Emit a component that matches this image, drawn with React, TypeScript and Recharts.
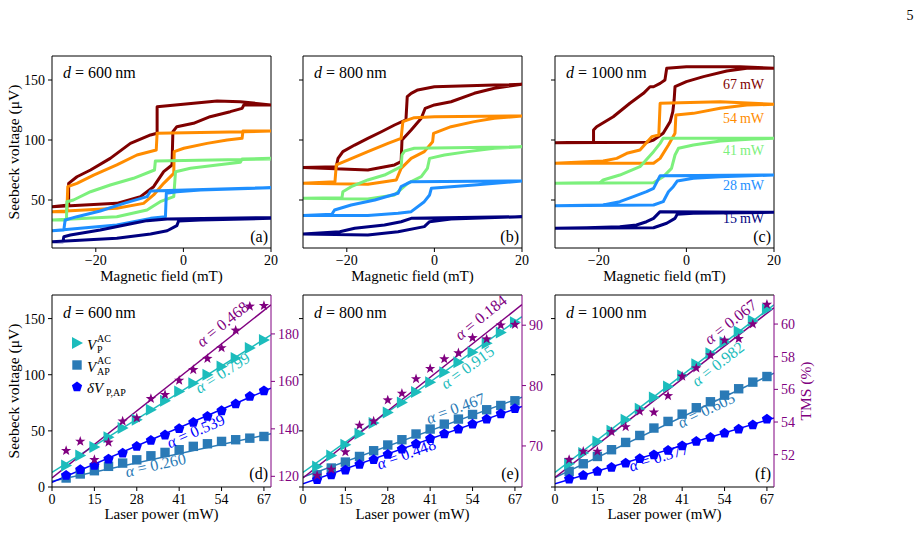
import React from "react";
import { LineChart, Line, XAxis, YAxis, ReferenceLine, ReferenceDot } from "recharts";

type Pt = [number, number];

// hysteresis loops: [field (mT), Seebeck voltage (µV)], sweep + -> - then back
const LOOP_600_67: Pt[] = [[20,129.2],[13,131.9],[7.7,132.5],[-6,127.8],[-6,105.6],[-7.5,104.2],[-12.1,97.2],[-16.7,84.7],[-21.2,75],[-24.3,69.4],[-26.2,63.9],[-26.2,45.8],[-30,44.4],[-15.2,47.2],[-9.8,52.8],[-6.8,61.1],[-4.5,73.6],[-2.6,79.2],[-2.4,106.9],[-1.5,111.1],[2.3,113.9],[6.1,119.4],[10.7,123.6],[13.4,126.4],[13.8,129.2],[20,129.2]];
const LOOP_600_54: Pt[] = [[20,107.5],[13.8,106.9],[-6,105.6],[-6.2,91.7],[-10.6,87.5],[-15.2,79.2],[-20.5,70.8],[-24.3,63.9],[-26.4,61.1],[-26.6,40.3],[-30,40.3],[-15.2,43.1],[-9.1,47.2],[-6.8,54.2],[-4.5,63.9],[-2.2,72.2],[-2.1,90.3],[0.1,93.1],[5.4,97.2],[10,100],[13.4,101.4],[13.6,107.5],[20,107.5]];
const LOOP_600_41: Pt[] = [[20,84.2],[-6.4,82.5],[-6.6,75],[-11.4,68.1],[-16.7,62.5],[-21.2,56.9],[-25.1,50],[-26.6,48.6],[-26.7,33.3],[-30,33.3],[-15.2,36.1],[-8.3,41.7],[-5.3,48.6],[-2.2,52.8],[-1.8,73.6],[1.6,76.4],[7.7,79.2],[13,81.4],[13.4,84.2],[20,84.7]];
const LOOP_600_28: Pt[] = [[20,60.3],[-7.5,57.5],[-8.3,52.8],[-13.6,47.2],[-19,40.8],[-24.3,36.1],[-27,33.3],[-27.3,25],[-30,24.4],[-15.2,29.2],[-7.5,34.7],[-4.1,36.1],[-3.9,55.6],[-1.5,56.9],[3.9,58.3],[20,60.3]];
const LOOP_600_15: Pt[] = [[20,35.3],[-3.7,34.2],[-8.3,32.8],[-11.4,30.6],[-19,25],[-25.8,20.8],[-27.3,19.4],[-27.5,15.3],[-30,15.3],[-15.2,18.1],[-7.5,21.7],[-3.7,24.4],[-1.5,28.6],[-1.1,32.5],[3.9,33.3],[20,34.7]];

const LOOP_800_67: Pt[] = [[20,146.4],[13.7,145.8],[0,144.4],[-3.8,141.7],[-5.3,138.9],[-6.2,136.1],[-6.5,116.7],[-9.1,112.5],[-12.1,106.9],[-15.2,101.4],[-18.2,95.8],[-20.9,90.3],[-22,84.7],[-22.4,77.8],[-30,77],[-15.2,75],[-9.1,79.2],[-7.6,81.9],[-7.4,100],[-5.3,108.3],[-3,118.1],[-2.1,126.4],[0,129.2],[3.8,131.9],[9.1,138.9],[13.7,143.1],[20,146.4]];
const LOOP_800_54: Pt[] = [[20,120],[0,119.4],[-4.6,118.6],[-7.2,115.3],[-7.6,101.4],[-10.6,97.2],[-15.2,90.3],[-19.8,83.3],[-22.4,79.2],[-22.7,65.3],[-30,63.9],[-15.2,63.1],[-8.7,66.7],[-7.6,76.4],[-5.3,84.7],[-2.3,90.3],[-0.4,98.6],[-0.2,105.6],[3.8,111.1],[9.1,115.3],[13.7,118.1],[20,120]];
const LOOP_800_41: Pt[] = [[20,94.4],[-4.6,93.1],[-6.8,90.8],[-7.4,87.5],[-7.6,77.8],[-11.4,70.8],[-15.2,66.7],[-19,61.1],[-20.9,56.9],[-21.1,51.9],[-30,51.4],[-15.2,50.8],[-9.1,54.2],[-6.1,63.9],[-3,69.4],[-1.6,76.4],[-1.1,84.7],[2.3,87.5],[7.6,90.3],[13.7,93.1],[20,94.4]];
const LOOP_800_28: Pt[] = [[20,65.8],[-5.3,65.3],[-7.6,61.1],[-8.3,55.6],[-13.6,50],[-19,45.8],[-22.8,41.7],[-23.4,38.1],[-30,37],[-15.2,37],[-8.3,38.9],[-5.3,40.3],[-2.3,48.6],[-1.1,54.2],[-0.7,59.7],[3.8,61.1],[9.1,62.5],[20,65.8]];
const LOOP_800_15: Pt[] = [[20,36.1],[-5.3,34.7],[-7.6,31.9],[-11.4,29.2],[-18.2,26.4],[-21.6,23.6],[-30,21.7],[-15.2,20.8],[-8.3,23.6],[-2.3,27.8],[-1.1,31.9],[3.8,34.2],[20,36.1]];

const LOOP_1000_67: Pt[] = [[20,159.7],[12.2,161.1],[0,161.1],[-4.5,159.7],[-4.9,150],[-6,147.2],[-7.5,144.4],[-8.3,144.4],[-9.8,138.9],[-12.9,130.6],[-16.7,119.4],[-20.5,111.1],[-21.2,108.3],[-21.2,98.1],[-30,97.8],[-9.1,98.1],[-7.5,100],[-5.3,105.6],[-3.7,115.3],[-3.1,123.6],[-2.8,133.3],[-2.6,144.4],[0,148.6],[3.9,152.8],[9.2,157.5],[13.8,159.7],[20,159.7]];
const LOOP_1000_54: Pt[] = [[20,129.7],[7.7,131.9],[-6,130.6],[-6.3,104.2],[-7.9,102.8],[-10.6,91.7],[-13.6,88.9],[-15.9,84.7],[-19,82.5],[-30,80.6],[-7.5,80.6],[-6,84.7],[-4.1,95.8],[-2.6,105.6],[-2.4,120.8],[1.6,122.2],[7.7,126.4],[13.8,129.2],[20,129.7]];
const LOOP_1000_41: Pt[] = [[20,101.4],[-5.3,101.4],[-6,97.2],[-7.5,90.3],[-10.6,77.8],[-15.2,70.8],[-19,66.7],[-19.7,64.4],[-30,63.9],[-7.5,64.4],[-5.3,69.4],[-3.4,76.4],[-2.6,87.5],[-1.8,93.1],[1.6,95.8],[7.7,99.2],[15.3,100.8],[20,101.4]];
const LOOP_1000_28: Pt[] = [[20,70.8],[-6,70.3],[-7.5,59.7],[-9.1,56.9],[-12.1,52.8],[-15.2,48.6],[-19,45.8],[-30,45.3],[-7.5,45.8],[-5.3,48.6],[-4.1,56.9],[-3,61.1],[-2.1,65.8],[1.6,68.1],[7.7,69.4],[20,70.8]];
const LOOP_1000_15: Pt[] = [[20,39.7],[-6,40.3],[-7.5,34.7],[-9.1,31.9],[-11.4,29.2],[-15.2,27.8],[-22.8,26.9],[-30,26.4],[-7.5,26.9],[-4.5,30.6],[-2.6,34.7],[-2.1,38.1],[1.6,38.9],[20,39.7]];

const LOOP_POWERS = [67, 54, 41, 28, 15];
const THICKNESS = ["600", "800", "1000"];
const FIELD_TICKS = [-20, 0, 20];
const VOLT_TICKS_TOP = [50, 100, 150];
const VOLT_TICKS_BOT = [0, 50, 100, 150];

// laser power steps (mW); lower panels place them by index
const POWER = [5, 10, 15, 19, 24, 28, 32, 37, 41, 45, 50, 54, 58, 63, 67];
const POWER_TICKS = [0, 3, 6, 9, 12, 15];

const VP_600 = [19.2, 28.1, 35.6, 44.2, 52.5, 59.9, 68.8, 76.8, 85.1, 92.5, 99.9, 107.3, 114.8, 123.7, 131];
const VAP_600 = [8, 11.6, 14.5, 18.4, 21.3, 24.2, 27.8, 30.8, 33.2, 36.2, 38.5, 40.6, 42.1, 43.5, 45];
const DV_600 = [10.3, 15.4, 19.2, 24.9, 30.2, 36.1, 41.5, 46.3, 51.9, 57.5, 62.8, 67.9, 74.1, 80.6, 85.7];
const TMS_600 = [130.8, 134.7, 127, 134.3, 143.2, 144.6, 152.7, 154.4, 160.4, 164.9, 169.6, 174.1, 181.5, 191.6, 191.9];

const VP_800 = [18.3, 28.1, 37.6, 47.4, 56.9, 66.4, 75.3, 84.5, 93.4, 102.3, 111.2, 120.1, 128.1, 137.5, 146.8];
const VAP_800 = [10.9, 16.9, 22.2, 27.2, 32.3, 37.4, 42.1, 47.2, 51.6, 56, 60.5, 64.6, 68.8, 72.6, 76.8];
const DV_800 = [6.5, 10.7, 15.1, 20.1, 24.3, 29, 33.8, 38.3, 43, 47.4, 51.6, 56, 60.5, 65.2, 69.7];
const TMS_800 = [65.1, 66.1, 69, 73.4, 74.1, 77.6, 78.7, 81.1, 82.8, 84.4, 85.4, 87.9, 87.7, 90, 90.1];

const VP_1000 = [20.7, 30.2, 40.6, 50.1, 59.9, 69.7, 79.7, 89.5, 99.3, 109.4, 119.2, 129, 138.4, 148, 158.3];
const VAP_1000 = [13.9, 20.7, 27.2, 33.2, 39.7, 45.9, 52.5, 58.4, 64.9, 70.6, 75.9, 81.8, 87.5, 93.4, 98.4];
const DV_1000 = [7.1, 10.3, 13.9, 17.4, 21.3, 25.2, 28.7, 32.6, 36.7, 40.6, 44.1, 48, 51.6, 55.4, 60.5];
const TMS_1000 = [51.7, 52.2, 52.2, 53.4, 53.7, 54.65, 54.6, 55.6, 56.8, 57.3, 58.1, 59, 59.1, 60, 61.2];

// fit lines: value at the left edge and right edge, order vp, vap, dv, tms
const FIT_600 = [[13, 135.5], [5, 47.4], [4.1, 88], [119.3, 192.3]];
const FIT_800 = [[13, 151.8], [8.9, 80], [2.9, 71.7], [64.7, 93.4]];
const FIT_1000 = [[13, 162.2], [8.5, 101.4], [2.9, 61.4], [50.6, 61]];

// exponents, order vp, vap, dv, tms
const ALPHA_600 = ["0.799", "0.260", "0.539", "0.468"];
const ALPHA_800 = ["0.915", "0.467", "0.448", "0.184"];
const ALPHA_1000 = ["0.982", "0.605", "0.377", "0.067"];

const TMS_TICKS = [[120, 140, 160, 180], [70, 80, 90], [52, 54, 56, 58, 60]];
const TMS_DOMAIN = [[115.5, 196.4], [63.2, 95], [50.02, 61.78]];

// ---- layout / style ----
const FONT = "'Liberation Serif', 'Times New Roman', serif";
const PANEL_X = [52, 303, 555];
const PW = 219;
const X_MAX = 15.5;
const LOOP_COLORS = ["#7f0000", "#ff8c00", "#7cf07c", "#1e8fff", "#00007f"];
const PURPLE = "#800080";
const CYAN = "#1cbcbc";
const STEEL = "#2a7ab6";
const BLUE = "#0000ff";
const SERIES_COLORS = [CYAN, STEEL, BLUE, PURPLE];
// [index, µV, rotation] for the alpha labels, order vp, vap, dv, tms
const ALPHA_POS = [
  [[12.06, 102, -32.2], [7.33, 19.8, -12.3], [10.17, 50.1, -23.3], [12.06, 145.3, -38.4]],
  [[11.63, 106.8, -35.5], [10.8, 70.3, -20.1], [7.3, 29.6, -19.5], [12.57, 151.2, -38.5]],
  [[11.51, 109.7, -37.5], [10.69, 68.8, -25.5], [7.33, 26.7, -16.8], [12.41, 147.3, -37.8]],
];
const TICK = { fontSize: 14, fill: "#000" };
const TICK_R = { fontSize: 14, fill: PURPLE };

const fmtMinus = (v: number) => (v < 0 ? "\u2212" + Math.abs(v) : String(v));

function XTitle({ viewBox, text, dy }: any) {
  if (!viewBox) return null;
  return (
    <text x={viewBox.x + viewBox.width / 2} y={viewBox.y + dy} textAnchor="middle" fontSize={15} fill="#000">
      {text}
    </text>
  );
}

function YTitle({ viewBox, text, dx, color }: any) {
  if (!viewBox) return null;
  const x = viewBox.x + dx;
  const y = viewBox.y + viewBox.height / 2;
  return (
    <text x={x} y={y} transform={`rotate(-90 ${x} ${y})`} textAnchor="middle" dominantBaseline="central" fontSize={15.5} fill={color}>
      {text}
    </text>
  );
}

function AlphaLabel({ viewBox, text, color, rot }: any) {
  if (!viewBox) return null;
  const x = viewBox.x + (viewBox.width || 0) / 2;
  const y = viewBox.y + (viewBox.height || 0) / 2;
  return (
    <text x={x} y={y} transform={`rotate(${rot} ${x} ${y})`} textAnchor="middle" dominantBaseline="central" fontSize={16} fill={color}>
      <tspan fontStyle="italic">α</tspan> = {text}
    </text>
  );
}

function triPts(cx: number, cy: number) {
  return `${cx + 6},${cy} ${cx - 5},${cy - 6} ${cx - 5},${cy + 6}`;
}
function polyPts(cx: number, cy: number, n: number, r1: number, r2: number) {
  const p: string[] = [];
  const m = r2 > 0 ? n * 2 : n;
  for (let k = 0; k < m; k++) {
    const a = -Math.PI / 2 + (k * 2 * Math.PI) / m;
    const r = r2 > 0 && k % 2 ? r2 : r1;
    p.push(`${cx + r * Math.cos(a)},${cy + r * Math.sin(a)}`);
  }
  return p.join(" ");
}

function Marker({ kind, cx, cy }: { kind: number; cx: number; cy: number }) {
  if (kind === 0) return <polygon points={triPts(cx, cy)} fill={CYAN} />;
  if (kind === 1) return <rect x={cx - 4.7} y={cy - 4.7} width={9.4} height={9.4} fill={STEEL} />;
  if (kind === 2) return <polygon points={polyPts(cx, cy, 5, 5.4, 0)} fill={BLUE} />;
  return <polygon points={polyPts(cx, cy, 5, 5.4, 2.2)} fill={PURPLE} />;
}

function LoopPanel({ k, loops }: { k: number; loops: Pt[][] }) {
  const first = k === 0;
  const yw = first ? 52 : 12;
  return (
    <div style={{ position: "absolute", left: PANEL_X[k] - yw, top: 46 }}>
      <LineChart width={yw + PW + 10} height={242} margin={{ top: 10, right: 10, bottom: 0, left: 0 }}>
        <XAxis
          type="number"
          dataKey="f"
          domain={[-30, 20]}
          ticks={FIELD_TICKS}
          allowDataOverflow
          height={40}
          tickSize={4}
          tickMargin={3}
          tick={TICK}
          tickFormatter={fmtMinus}
          stroke="#000"
          label={<XTitle text="Magnetic field (mT)" dy={33} />}
        />
        <YAxis
          type="number"
          domain={[10, 170]}
          ticks={VOLT_TICKS_TOP}
          allowDataOverflow
          width={yw}
          tickSize={4}
          tickMargin={3}
          tick={TICK}
          tickFormatter={(v: number) => (first ? String(v) : "")}
          stroke="#000"
          label={first ? <YTitle text="Seebeck voltage (μV)" dx={13.5} color="#000" /> : undefined}
        />
        <ReferenceLine y={170} stroke="#000" ifOverflow="visible" />
        <ReferenceLine x={20} stroke="#000" ifOverflow="visible" />
        {loops.map((pts, j) => (
          <Line
            key={LOOP_POWERS[j]}
            data={pts.map(([f, v]) => ({ f, v }))}
            dataKey="v"
            type="linear"
            stroke={LOOP_COLORS[j]}
            strokeWidth={3}
            strokeLinejoin="round"
            dot={false}
            activeDot={false}
            isAnimationActive={false}
          />
        ))}
      </LineChart>
    </div>
  );
}

function PowerPanel({ k, series, fits, alphas }: { k: number; series: number[][]; fits: number[][]; alphas: string[] }) {
  const first = k === 0;
  const last = k === 2;
  const lw = first ? 52 : 12;
  const rw = last ? 62 : 32;
  const order = [1, 2, 0, 3];
  return (
    <div style={{ position: "absolute", left: PANEL_X[k] - lw, top: 285 }}>
      <LineChart width={lw + PW + rw} height={242} margin={{ top: 10, right: 0, bottom: 0, left: 0 }}>
        <XAxis
          type="number"
          dataKey="i"
          domain={[0, X_MAX]}
          ticks={POWER_TICKS}
          allowDataOverflow
          height={40}
          tickSize={4}
          tickMargin={3}
          tick={TICK}
          tickFormatter={(v: number) => (v === 0 ? "0" : String(POWER[v - 1]))}
          stroke="#000"
          label={<XTitle text="Laser power (mW)" dy={32} />}
        />
        <YAxis
          type="number"
          domain={[0, 171]}
          ticks={VOLT_TICKS_BOT}
          allowDataOverflow
          width={lw}
          tickSize={4}
          tickMargin={3}
          tick={TICK}
          tickFormatter={(v: number) => (first ? String(v) : "")}
          stroke="#000"
          label={first ? <YTitle text="Seebeck voltage (μV)" dx={13.5} color="#000" /> : undefined}
        />
        <YAxis
          yAxisId="r"
          orientation="right"
          type="number"
          domain={TMS_DOMAIN[k]}
          ticks={TMS_TICKS[k]}
          allowDataOverflow
          width={rw}
          tickSize={4}
          tickMargin={3}
          tick={TICK_R}
          stroke={PURPLE}
          label={last ? <YTitle text="TMS (%)" dx={31} color={PURPLE} /> : undefined}
        />
        <ReferenceLine y={171} stroke="#000" ifOverflow="visible" />
        {fits.map((ab, j) => (
          <Line
            key={"fit" + j}
            yAxisId={j === 3 ? "r" : 0}
            data={[{ i: 0, v: ab[0] }, { i: X_MAX, v: ab[1] }]}
            dataKey="v"
            stroke={SERIES_COLORS[j]}
            strokeWidth={1.5}
            dot={false}
            activeDot={false}
            isAnimationActive={false}
          />
        ))}
        {order.map((j) => (
          <Line
            key={"m" + j}
            yAxisId={j === 3 ? "r" : 0}
            data={series[j].map((v, n) => ({ i: n + 1, v }))}
            dataKey="v"
            stroke="none"
            dot={(p: any) => <Marker key={"d" + j + "_" + p.index} kind={j} cx={p.cx} cy={p.cy} />}
            activeDot={false}
            isAnimationActive={false}
          />
        ))}
        {alphas.map((a, j) => (
          <ReferenceDot
            key={"a" + j}
            x={ALPHA_POS[k][j][0]}
            y={ALPHA_POS[k][j][1]}
            r={0}
            fill="none"
            stroke="none"
            ifOverflow="visible"
            label={<AlphaLabel text={a} color={SERIES_COLORS[j]} rot={ALPHA_POS[k][j][2]} />}
          />
        ))}
      </LineChart>
    </div>
  );
}

function Overlay() {
  const tagsTop = ["(a)", "(b)", "(c)"];
  const tagsBot = ["(d)", "(e)", "(f)"];
  const powerY = [89, 123, 155, 190, 223];
  return (
    <svg width={923} height={555} style={{ position: "absolute", left: 0, top: 0, pointerEvents: "none" }}>
      <text x={910} y={20} fontSize={14} textAnchor="middle">5</text>
      {PANEL_X.map((px, k) => (
        <g key={k} fontSize={16} fill="#000">
          <text x={px + 11} y={78}>
            <tspan fontStyle="italic">d</tspan> = {THICKNESS[k]}{"\u2009"}nm
          </text>
          <text x={px + 11} y={318}>
            <tspan fontStyle="italic">d</tspan> = {THICKNESS[k]}{"\u2009"}nm
          </text>
          <text x={px + PW - 3} y={242} textAnchor="end">{tagsTop[k]}</text>
          <text x={px + PW - 3} y={479} textAnchor="end">{tagsBot[k]}</text>
        </g>
      ))}
      {LOOP_POWERS.map((p, j) => (
        <text key={p} x={764} y={powerY[j]} textAnchor="end" fontSize={14} fill={LOOP_COLORS[j]}>
          {p}{"\u2009"}mW
        </text>
      ))}
      <g fill="#000">
        <Marker kind={0} cx={77} cy={343} />
        <text x={87} y={350} fontSize={15} fontStyle="italic">V</text>
        <text x={97} y={342} fontSize={10}>AC</text>
        <text x={97} y={353} fontSize={10}>P</text>
        <Marker kind={1} cx={77} cy={365} />
        <text x={87} y={372} fontSize={15} fontStyle="italic">V</text>
        <text x={97} y={364} fontSize={10}>AC</text>
        <text x={97} y={375} fontSize={10}>AP</text>
        <Marker kind={2} cx={77} cy={387} />
        <text x={87} y={393} fontSize={15} fontStyle="italic">δV</text>
        <text x={106} y={396} fontSize={10}>P,AP</text>
      </g>
    </svg>
  );
}

export default function App() {
  const loops = [
    [LOOP_600_67, LOOP_600_54, LOOP_600_41, LOOP_600_28, LOOP_600_15],
    [LOOP_800_67, LOOP_800_54, LOOP_800_41, LOOP_800_28, LOOP_800_15],
    [LOOP_1000_67, LOOP_1000_54, LOOP_1000_41, LOOP_1000_28, LOOP_1000_15],
  ];
  const series = [
    [VP_600, VAP_600, DV_600, TMS_600],
    [VP_800, VAP_800, DV_800, TMS_800],
    [VP_1000, VAP_1000, DV_1000, TMS_1000],
  ];
  const fits = [FIT_600, FIT_800, FIT_1000];
  const alphas = [ALPHA_600, ALPHA_800, ALPHA_1000];
  return (
    <div style={{ position: "absolute", left: 0, top: 0, width: 923, height: 555, background: "#fff", fontFamily: FONT }}>
      {[0, 1, 2].map((k) => (
        <LoopPanel key={"t" + k} k={k} loops={loops[k]} />
      ))}
      {[0, 1, 2].map((k) => (
        <PowerPanel key={"b" + k} k={k} series={series[k]} fits={fits[k]} alphas={alphas[k]} />
      ))}
      <Overlay />
    </div>
  );
}
